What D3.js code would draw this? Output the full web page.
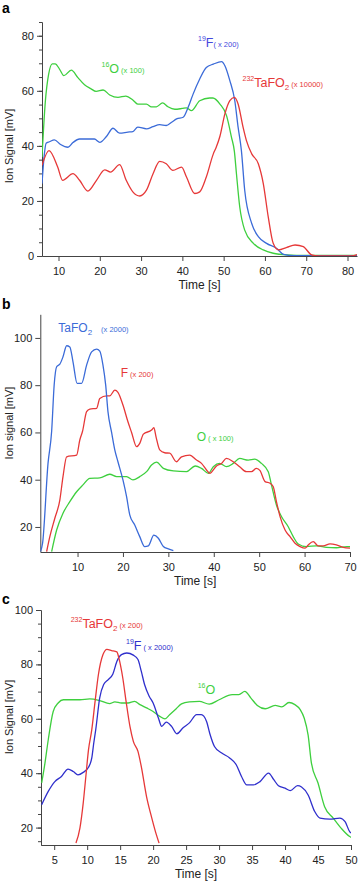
<!DOCTYPE html>
<html>
<head>
<meta charset="utf-8">
<script src="https://cdn.jsdelivr.net/npm/d3@7"></script>
<style>
  body { margin: 0; background: #fff; }
  svg { display: block; font-family: "Liberation Sans", Arial, Helvetica, sans-serif; }
</style>
</head>
<body>
<script>
// ---- panel a : [time s, signal mV] ----
const aO16 = [[6,36],[6.8,56],[7.6,66],[8.5,69.8],[9.2,69.8],[10.2,68],[11.3,65.5],[13.1,67.5],[14.7,64.8],[16.3,62.2],[17.8,60.8],
  [19.1,59.8],[20.8,60.3],[22.4,58.5],[24.4,57.6],[26.3,58.1],[28,56.7],[29.2,55.2],[31.3,55.2],[32.5,54.2],[33.7,54.2],
  [35.2,55.6],[36.5,54.2],[38.2,53.3],[40,53.6],[41,53.8],[42.2,52.8],[44.2,56.4],[46.6,57.4],[47.4,57.4],[49.1,55.2],
  [50.7,51],[51.9,43.1],[52.6,38],[53.1,29.9],[53.9,17.8],[55.1,9.4],[57.2,4.6],[59.6,2.2],[62,1],[65.3,0.4],[70,0.2],[82.3,0.2]];
const aF19 = [[6,26.3],[6.5,36],[7,41],[7.8,41.5],[9,42.2],[10.5,40.5],[12.3,39.5],[13.5,41.2],[15.1,42.5],[18.7,42.5],[20,41.3],
  [21.6,43.4],[23.2,46.4],[24.8,44.6],[26.8,45],[28,45.2],[29.2,46.8],[31.3,46.2],[32.9,47],[34.5,47.7],[36.1,47.4],[37.4,48.6],
  [38.6,49.8],[40.2,50.4],[41.4,54],[42.6,58.8],[44.2,64.3],[45.8,68.5],[47.5,69.7],[49.5,70.6],[50.3,69.1],[51.5,63.7],
  [52.7,56.4],[53.5,46.8],[54.3,38.3],[55.1,23.9],[56.8,11.8],[58.4,7],[60.4,4.6],[62.8,2.8],[64.5,0.6],[67,0.1],[82.3,0.1]];
const aTaFO2 = [[6,32.9],[7.7,38.3],[9.8,32.3],[11,27.5],[13.5,29.9],[15.1,27.5],[17.1,23.6],[19.2,27.5],[21.2,31.3],[22.6,30.5],
  [24.8,33.2],[26.4,27.5],[28,23.3],[29.7,21.8],[31.3,23.9],[32.9,29.9],[34.5,34.4],[36.1,33.5],[37.7,31.1],[39.8,32.3],
  [41,28.7],[43,22.7],[44.2,23.3],[45.8,28.7],[47.5,37.1],[48.2,39.5],[49.1,43.5],[50.3,51.6],[51.5,56.4],[52.6,57.6],
  [53.5,55.2],[54.7,46.8],[55.5,42],[56.8,37.1],[58.4,33.5],[59.6,26.3],[60.8,14.2],[62,4.6],[63.3,2.2],[65.3,3.1],
  [67.3,4],[69.3,3.4],[71.3,0.4],[73,0],[81,0],[82.3,0.5]];

// ---- panel b ----
const bTaFO2 = [[1.85,9.6],[2.3,13.1],[3.5,46.9],[4.3,60.5],[4.85,80],[5.4,87.8],[6.1,88.9],[6.8,92],[7.6,96.7],[8.3,96.2],
  [9,89.9],[9.9,80.8],[10.9,80.8],[12,88.5],[13.1,94.1],[14.2,95.3],[14.9,94.4],[15.6,88.5],[16.2,80],[16.7,68.8],[17.5,60],
  [18.2,52.6],[18.9,47.6],[20,39.9],[20.8,32.8],[21.5,25.1],[22.6,20.8],[23.7,15.9],[24.8,11.7],[25.6,12],[26.8,16.5],
  [27.8,15.2],[28.9,11.7],[30,10.7],[31.1,10]];
const bF = [[3.2,9.6],[3.9,15.9],[5,23.7],[6.1,31.4],[6.8,41.3],[7.6,49.7],[9.8,50.4],[10.5,56.8],[11.1,60.5],[12,68.8],
  [12.7,69.9],[14.2,70.2],[14.9,74.4],[16.4,75.5],[17.1,75.5],[18.2,77.9],[18.9,77],[20,71.6],[21.1,64.5],[21.9,60],[23,54],
  [23.7,55.4],[24.5,59.3],[26.3,61],[26.8,62],[27.3,58],[28.1,52.6],[29.2,51.4],[30.3,51.2],[31.8,47.6],[32.9,49.7],
  [34.7,50.4],[36.2,48.3],[37.3,46.9],[38.4,44.1],[39.1,42.7],[40.6,45.8],[41.7,46.9],[42.8,49],[44.3,47.6],[45.7,45.5],
  [47.2,43.4],[48.3,43.4],[49.4,44.8],[50.2,43.8],[51.3,39.2],[52.4,38.5],[53.1,37],[53.8,30.7],[54.6,24.4],[55.7,18.7],
  [56.8,15.9],[57.9,13.1],[59,11.7],[60.1,11],[60.8,12.4],[61.9,13.8],[63,12],[64.1,12],[65.6,12.8],[67,12.4],[68.5,11.4],[70,11]];
const bO = [[4.3,9.6],[5.4,18.7],[6.8,25.8],[8.3,30.7],[9.8,34.9],[11.2,37.8],[12.7,40.6],[14.9,40.8],[17.1,42.3],[18.6,41.3],
  [20.8,41.3],[22.2,39.9],[23.7,41.3],[25.2,43.4],[26.3,46.2],[27.4,47.4],[28.9,44.8],[31.1,43.7],[34,43.4],[35.9,45.8],
  [37.3,44.8],[38.8,42.7],[39.9,45.5],[41.3,46.9],[42.8,45.5],[44.3,46.9],[45.7,49],[47.6,48.3],[49,48.7],[50.5,46.9],
  [52,43.4],[52.7,37.8],[53.8,29.3],[54.9,24.4],[56.4,20.1],[57.5,15.9],[58.6,12.8],[60.4,11.7],[62.6,12],[64.8,11.4],
  [67,11.2],[69.3,11.7],[70,11.7]];

// ---- panel c ----
const cO16 = [[3.1,36.4],[3.6,43.7],[4.1,52.3],[4.85,62.7],[5.6,65.8],[6.4,67],[8.9,67],[10.4,67.3],[11.9,66.7],[13.4,65.6],
  [14.2,66.2],[15.2,65.8],[16.2,65.8],[17.2,66.4],[18,65.2],[19,64],[20,62.7],[21,60.9],[21.8,60],[22.5,61.5],[23.5,63.7],
  [24.3,65.5],[25.5,66.2],[27,66.4],[28.5,65.4],[30,67],[32,68.9],[33,68.9],[33.9,70.1],[34.8,67.7],[35.8,64.9],[37,63.7],
  [38.5,64.9],[39.5,64.4],[40.6,66],[41.5,65.2],[42.3,63.4],[42.9,60.3],[43.5,54],[44,43.7],[45,36.4],[46,27.7],[47.3,23.5],
  [48.5,19.8],[49.8,16.7],[50,16.4]];
const cF19 = [[3.1,28.4],[4.1,33.3],[5.1,36.9],[6.1,38.8],[7.1,41.5],[7.9,40.6],[8.6,39.4],[9.4,40.3],[10.2,42.2],[10.7,45.6],
  [11,51.1],[11.3,56],[11.9,67.7],[12.5,72.6],[13.2,74.4],[13.9,76.5],[14.5,81.1],[15.2,83.6],[16,84.2],[17,83.4],[17.7,81.8],
  [18.2,77.5],[18.7,72.6],[19.4,68.3],[20,65.8],[20.8,60.3],[21.3,57.2],[22,58.8],[22.8,57.2],[23.6,54.5],[24.5,56.6],
  [25.5,58.5],[26.6,61.5],[27.3,61.5],[28.1,59],[28.6,54.5],[29.3,49.8],[30.4,47.4],[31.6,45.6],[32.6,43.1],[33.4,38.8],
  [34.2,35.7],[35.2,35.7],[36.2,36.9],[37.5,40],[38.3,37.6],[39,35.4],[40,34.5],[40.8,33.6],[41.9,35.4],[42.5,34.9],
  [43.5,32],[44.5,25.9],[45.3,23.5],[46.8,23.1],[48.3,23.5],[49.1,22.2],[49.8,18.5],[50,18]];
const cTaFO2 = [[8.3,14.3],[8.9,19.8],[9.4,29],[9.8,38.8],[10.2,48.6],[10.7,56],[11.2,66.4],[11.7,76.2],[12.4,83.6],[13,85.5],
  [13.7,85.1],[14.5,84.6],[14.8,82.4],[15.4,75],[15.9,66.4],[16.5,57],[17,51.7],[17.7,48],[18.2,42.5],[19,31.4],[19.8,23.5],
  [20.5,17.3],[20.9,14.3]];

// tick values
const aXTicks = [10,20,30,40,50,60,70,80];
const aYTicks = [0,20,40,60,80];
const bXTicks = [10,20,30,40,50,60,70];
const bYTicks = [20,40,60,80,100];
const cXTicks = [5,10,15,20,25,30,35,40,45,50];
const cYTicks = [20,40,60,80,100];

const GREEN = "#3ecf3e", RED = "#e63838", BLUE = "#3b6bd8", BLUE_C = "#2f2fcc";

const svg = d3.select("body").append("svg")
  .attr("width", 359)
  .attr("height", 895);

function drawPanel(p) {
  const x = d3.scaleLinear().domain(p.xDomain).range(p.xRange);
  const y = d3.scaleLinear().domain(p.yDomain).range(p.yRange);
  const g = svg.append("g");

  svg.append("clipPath").attr("id", "clip-" + p.id)
    .append("rect")
    .attr("x", p.xRange[0])
    .attr("y", p.yRange[1])
    .attr("width", p.xRange[1] - p.xRange[0])
    .attr("height", p.yRange[0] - p.yRange[1]);

  // minor y ticks
  if (p.yMinor) {
    g.append("g")
      .attr("class", "axis")
      .attr("transform", `translate(${p.xRange[0]},0)`)
      .call(d3.axisLeft(y).tickValues(p.yMinor).tickSize(3).tickSizeOuter(0).tickFormat(""));
  }
  // y axis
  g.append("g")
    .attr("class", "axis")
    .attr("transform", `translate(${p.xRange[0]},0)`)
    .call(d3.axisLeft(y).tickValues(p.yTicks).tickSize(5).tickSizeOuter(0).tickPadding(3));
  // x axis
  g.append("g")
    .attr("class", "axis")
    .attr("transform", `translate(0,${p.yRange[0]})`)
    .call(d3.axisBottom(x).tickValues(p.xTicks).tickSize(5).tickSizeOuter(0).tickPadding(6));

  g.selectAll(".axis path, .axis line").attr("stroke", "#444").attr("stroke-width", 1);
  g.selectAll(".axis text").attr("fill", "#222").style("font-size", "11px")
    .style("font-family", "'Liberation Sans', Arial, sans-serif");

  // curves
  const line = d3.line()
    .x(d => x(d[0]))
    .y(d => y(d[1]))
    .curve(d3.curveMonotoneX);
  p.series.forEach(s => {
    g.append("path")
      .datum(s.data)
      .attr("clip-path", `url(#clip-${p.id})`)
      .attr("fill", "none")
      .attr("stroke", s.color)
      .attr("stroke-width", 1.3)
      .attr("d", line);
  });

  // axis titles
  g.append("text")
    .attr("x", (p.xRange[0] + p.xRange[1]) / 2)
    .attr("y", p.xTitleY)
    .attr("text-anchor", "middle")
    .style("font-size", "12px")
    .attr("fill", "#222")
    .text("Time [s]");
  g.append("text")
    .attr("transform", `translate(12.5,${p.yTitleY}) rotate(-90)`)
    .attr("text-anchor", "middle")
    .style("font-size", "11px")
    .attr("fill", "#222")
    .text(p.yTitle);

  // panel letter
  g.append("text")
    .attr("x", 2)
    .attr("y", p.letterY)
    .style("font-size", "14px")
    .style("font-weight", "bold")
    .text(p.id);

  // series labels
  p.labels.forEach(l => {
    const t = g.append("text").attr("x", l.x).attr("y", l.y).attr("fill", l.color);
    l.parts.forEach(pt => {
      t.append("tspan")
        .attr("dy", pt.dy || 0)
        .attr("dx", pt.dx || 0)
        .style("font-size", pt.s + "px")
        .text(pt.t);
    });
  });
}

drawPanel({
  id: "a",
  xDomain: [6, 82.3], xRange: [42, 357],
  yDomain: [0, 85], yRange: [256, 22],
  xTicks: aXTicks, yTicks: aYTicks, yMinor: d3.range(0, 86, 5),
  xTitleY: 288.5, yTitleY: 146, yTitle: "Ion Signal [mV]", letterY: 13,
  series: [
    { data: aO16, color: GREEN },
    { data: aF19, color: BLUE },
    { data: aTaFO2, color: RED }
  ],
  labels: [
    { x: 101.5, y: 72.5, color: GREEN, parts: [{ t: "16", s: 7, dy: -6 }, { t: "O", s: 12.5, dy: 6 }, { t: " (x 100)", s: 7.5 }] },
    { x: 198, y: 46.5, color: "#4448dd", parts: [{ t: "19", s: 7, dy: -6 }, { t: "F", s: 12.5, dy: 6 }, { t: "( x 200)", s: 7.5 }] },
    { x: 242.5, y: 86.5, color: RED, parts: [{ t: "232", s: 7, dy: -6 }, { t: "TaFO", s: 12.5, dy: 6 }, { t: "2", s: 8, dy: 3 }, { t: " (x 10000)", s: 7.5, dy: -3 }] }
  ]
});

drawPanel({
  id: "b",
  xDomain: [1.8, 70], xRange: [40.3, 350],
  yDomain: [9.4, 110], yRange: [552, 314.3],
  xTicks: bXTicks, yTicks: bYTicks, yMinor: null,
  xTitleY: 585, yTitleY: 423, yTitle: "Ion signal [mV]", letterY: 309,
  series: [
    { data: bO, color: GREEN },
    { data: bF, color: RED },
    { data: bTaFO2, color: BLUE }
  ],
  labels: [
    { x: 58.3, y: 331.7, color: BLUE, parts: [{ t: "TaFO", s: 12 }, { t: "2", s: 8, dy: 3 }, { t: "(x 2000)", s: 7.5, dy: -3, dx: 9 }] },
    { x: 120.7, y: 376.7, color: RED, parts: [{ t: "F", s: 12 }, { t: " (x 200)", s: 7.5 }] },
    { x: 196.7, y: 440.7, color: GREEN, parts: [{ t: "O", s: 12 }, { t: " ( x 100)", s: 7.5 }] }
  ]
});

drawPanel({
  id: "c",
  xDomain: [3, 50], xRange: [41, 351],
  yDomain: [13.6, 100], yRange: [845, 610],
  xTicks: cXTicks, yTicks: cYTicks, yMinor: d3.range(15, 101, 5),
  xTitleY: 877.5, yTitleY: 717, yTitle: "Ion Signal [mV]", letterY: 604,
  series: [
    { data: cO16, color: GREEN },
    { data: cF19, color: BLUE_C },
    { data: cTaFO2, color: RED }
  ],
  labels: [
    { x: 70.7, y: 628.3, color: RED, parts: [{ t: "232", s: 7, dy: -6 }, { t: "TaFO", s: 12.5, dy: 6 }, { t: "2", s: 8, dy: 3 }, { t: " (x 200)", s: 7.5, dy: -3 }] },
    { x: 126, y: 650, color: BLUE_C, parts: [{ t: "19", s: 7, dy: -6 }, { t: "F", s: 12.5, dy: 6 }, { t: " ( x 2000)", s: 7.5 }] },
    { x: 197.7, y: 694, color: GREEN, parts: [{ t: "16", s: 7, dy: -6 }, { t: "O", s: 12.5, dy: 6 }] }
  ]
});
</script>
</body>
</html>
